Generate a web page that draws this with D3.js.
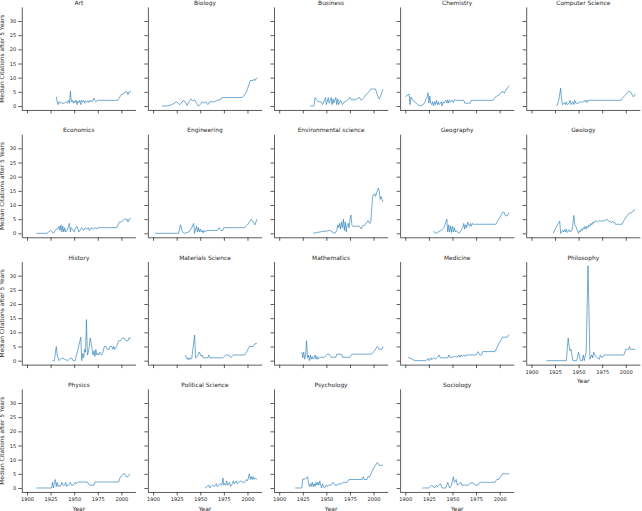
<!DOCTYPE html>
<html><head><meta charset="UTF-8">
<title>Median Citations after 5 Years</title>
<script src="https://d3js.org/d3.v7.min.js"></script>
<style>
  body { margin: 0; background: #fff; }
  text { font-family: "DejaVu Sans", sans-serif; fill: #262626; }
</style>
</head>
<body>
<svg id="chart" width="642" height="511"></svg>
<script>
// field names, in facet order (5 columns)
var fields = ["Art", "Biology", "Business", "Chemistry", "Computer Science",
  "Economics", "Engineering", "Environmental science", "Geography", "Geology",
  "History", "Materials Science", "Mathematics", "Medicine", "Philosophy",
  "Physics", "Political Science", "Psychology", "Sociology"];

var xTicks = [1900, 1925, 1950, 1975, 2000];
var yTicks = [0, 5, 10, 15, 20, 25, 30];

// [year, median citations after 5 years]
var art = [[1931,3.3],[1932,1.5],[1933,0.5],[1934,1.5],[1935,1],[1937,1.2],[1939,0.8],[1941,1.5],[1943,1],[1944,2],[1945,1],[1946,5.2],[1947,1.5],[1948,2],[1949,1],[1950,1.8],[1951,1.2],[1952,2],[1953,0.5],[1954,1.8],[1955,1.2],[1956,2],[1957,0.5],[1958,2],[1959,1.5],[1960,2],[1961,1],[1962,1.8],[1963,1.5],[1964,1.8],[1965,1.2],[1966,2],[1967,1.5],[1968,2],[1969,1.5],[1970,2],[1971,2.8],[1972,2],[1973,1.5],[1975,2],[1996,2],[1998,3],[2000,4],[2002,4.2],[2004,5],[2006,5],[2007,4],[2008,5],[2010,5]];
var biology = [[1909,0],[1915,0],[1920,0.5],[1925,1.5],[1928,0.5],[1930,1],[1932,2],[1934,1.5],[1936,0.2],[1938,1.5],[1940,2.5],[1942,1.8],[1944,2.2],[1946,1],[1948,0],[1950,0.5],[1952,1.5],[1954,1],[1956,1.5],[1958,0.5],[1960,1.5],[1965,1.5],[1968,2],[1972,2.4],[1973,3],[1994,3],[1996,3.5],[1999,5],[2001,7],[2003,9],[2006,9],[2007,9.5],[2008,9],[2010,10]];
var business = [[1933,0],[1936,0],[1937,0.2],[1938,3],[1940,2],[1942,1.5],[1944,1.5],[1946,0.5],[1948,2],[1949,3],[1950,0.5],[1952,3],[1953,1],[1955,3],[1956,0.5],[1957,2.5],[1958,1],[1960,3],[1961,0.5],[1962,2.5],[1963,0.5],[1965,2],[1967,0.5],[1969,1.5],[1970,1.5],[1972,2],[1974,2.5],[1975,3],[1977,2],[1979,2.5],[1980,2],[1982,2.5],[1985,3],[1987,2],[1990,3],[1992,4],[1995,5],[1997,6],[2000,6],[2002,6],[2003,5],[2005,3],[2006,2.5],[2008,4],[2010,6]];
var chemistry = [[1900,3.3],[1902,3.8],[1904,4.2],[1905,0.5],[1906,3.2],[1908,2],[1910,1.5],[1913,0.5],[1916,0],[1919,0.5],[1921,1.5],[1922,2.5],[1923,3],[1924,4.7],[1925,1],[1926,3.5],[1927,1],[1928,0.5],[1929,1.5],[1930,0],[1931,1.5],[1932,0.5],[1933,2],[1934,0.5],[1935,1.5],[1936,0.5],[1938,1.5],[1939,0],[1940,1.5],[1941,1],[1943,2],[1944,1],[1945,2.2],[1946,1],[1947,2],[1948,1.5],[1950,2],[1951,1.2],[1952,2.2],[1954,2],[1962,2],[1963,1],[1969,1],[1970,2],[1993,2],[1995,3],[1997,3.5],[2000,4],[2002,5],[2004,5],[2005,4.5],[2007,6],[2009,6.5],[2010,7.2]];
var computerScience = [[1927,0],[1929,2],[1931,6.3],[1932,2],[1933,0.5],[1935,1.2],[1936,0.5],[1937,1.5],[1938,0.5],[1940,1],[1941,2],[1942,0.5],[1944,1.5],[1945,0.5],[1946,2],[1947,1],[1950,1],[1952,1.5],[1954,1.2],[1956,2],[1957,1.5],[1958,2],[1959,1.2],[1960,2],[1995,2],[1997,3],[2000,4],[2003,5.2],[2005,5],[2007,3.8],[2008,3.2],[2010,4.2]];
var economics = [[1910,0],[1921,0],[1925,1],[1928,0],[1931,1.5],[1933,1.5],[1934,2.5],[1935,1],[1936,3],[1937,0.5],[1938,2.5],[1939,0.5],[1940,2],[1941,0.5],[1943,1.5],[1945,3.5],[1946,0.5],[1947,2],[1948,1.5],[1950,0.5],[1951,1.5],[1953,2.5],[1955,0.5],[1957,1.5],[1958,2],[1960,1],[1962,2],[1963,1.5],[1965,2],[1966,1],[1968,2],[1970,1.5],[1972,2],[1974,1.5],[1975,2],[1995,2],[1998,4],[2000,4],[2003,5],[2006,5],[2007,4],[2008,5],[2010,5.2]];
var engineering = [[1902,0],[1927,0],[1929,3],[1931,0.5],[1933,0],[1938,0.5],[1941,2],[1943,3.5],[1944,0],[1946,2.5],[1947,0.5],[1948,2],[1949,0.5],[1950,1.5],[1951,0.5],[1952,1],[1953,0.2],[1954,1],[1955,0.5],[1957,1],[1968,1],[1970,2],[1972,1],[1974,1],[1975,2],[1997,2],[2000,3],[2002,4],[2004,5],[2006,4],[2008,3],[2010,5]];
var environmentalScience = [[1936,0],[1940,0.3],[1945,0.6],[1950,0.8],[1954,1],[1957,0.3],[1959,0],[1961,1],[1962,3],[1963,2],[1964,3.5],[1965,1.5],[1966,4],[1967,2],[1968,5],[1969,1],[1970,4],[1971,0.5],[1972,3],[1973,3.5],[1974,2],[1975,5],[1976,6.5],[1977,3],[1978,2.5],[1985,2.5],[1987,1.5],[1988,2.5],[1991,3],[1994,4.5],[1996,3.5],[1997,4],[1999,13],[2001,14],[2002,13],[2004,15],[2005,16],[2006,15],[2007,12],[2008,13],[2009,12],[2010,11]];
var geography = [[1930,0.8],[1932,0],[1935,0.5],[1938,1],[1941,2],[1944,5],[1945,0.5],[1946,3],[1947,0.5],[1948,2.5],[1949,0.3],[1950,2.5],[1951,0.5],[1952,2],[1953,0.5],[1954,1],[1955,0.5],[1957,0],[1959,1],[1961,2],[1962,3.5],[1963,1.5],[1964,3],[1965,2],[1966,4],[1967,3],[1968,2.5],[1969,3.5],[1970,2.5],[1971,3.5],[1972,3.2],[1996,3.2],[1998,4.5],[2001,6],[2003,7.4],[2005,7.4],[2006,6.2],[2008,6.2],[2010,7.4]];
var geology = [[1923,0],[1926,2],[1930,4.3],[1931,0],[1933,1],[1934,0.5],[1935,1.2],[1936,0.5],[1937,1.5],[1938,0.3],[1940,1.2],[1941,0.5],[1943,1],[1945,6.3],[1946,3],[1947,2.5],[1948,1.5],[1950,0],[1951,1],[1952,0.5],[1953,1.5],[1954,1],[1955,2],[1956,1.5],[1957,2.5],[1958,1.5],[1959,2.5],[1960,2],[1961,3],[1962,2.5],[1963,3.5],[1964,3],[1965,4],[1966,3.5],[1968,4.5],[1970,4],[1972,4.5],[1975,4.3],[1978,4.5],[1980,5],[1982,4.2],[1984,4.2],[1985,3.8],[1986,4.2],[1987,3.8],[1988,4],[1989,3.2],[1996,3.2],[1998,4.5],[2000,5.5],[2002,6.5],[2004,7.2],[2006,7.2],[2008,8],[2010,8.3]];
var historyField = [[1927,0],[1929,0],[1931,5],[1932,2],[1934,0],[1937,1],[1940,0.5],[1943,0],[1945,0.5],[1947,1],[1949,0],[1951,0],[1954,4],[1957,8.3],[1958,0],[1959,2.5],[1960,1],[1961,4],[1962,3],[1963,14.5],[1964,2],[1965,3],[1966,5],[1967,8],[1968,6],[1969,4],[1970,2],[1971,3.5],[1972,1.5],[1973,4],[1974,2],[1975,2.5],[1976,2],[1977,3],[1979,2],[1980,2.5],[1982,5],[1984,5],[1985,4],[1987,4],[1988,5],[1990,5],[1991,4],[1992,5],[1993,4],[1995,5],[1997,7],[1999,7],[2001,8],[2003,8],[2005,7],[2007,7],[2008,8],[2010,8]];
var materialsScience = [[1934,2],[1936,0.5],[1937,1],[1938,0.3],[1939,1],[1940,0.5],[1941,1],[1944,9],[1945,1],[1947,1.5],[1949,3],[1951,1.5],[1952,2],[1953,1],[1956,1],[1958,1],[1959,2],[1960,1],[1974,1],[1977,2],[1980,2],[1982,1],[1985,2],[1997,2],[1999,3],[2002,5],[2006,5],[2008,6],[2010,6]];
var mathematics = [[1924,3],[1925,1],[1926,3],[1927,0.5],[1928,2],[1929,7],[1930,1],[1931,2],[1932,0],[1933,2],[1934,0.5],[1935,1.5],[1936,0.5],[1937,1],[1938,2],[1939,0.5],[1940,1.5],[1941,0.5],[1942,1],[1944,1.2],[1948,1.2],[1951,2.3],[1953,2.3],[1955,1.2],[1960,1.2],[1961,2.3],[1966,2.3],[1967,1.2],[1975,1.2],[1977,2.3],[1998,2.3],[2001,3.5],[2004,5],[2006,4],[2009,4],[2010,5]];
var medicine = [[1903,1.2],[1906,0.8],[1910,0],[1922,0],[1924,0.8],[1925,0],[1927,1],[1928,0.3],[1930,1],[1932,0.5],[1934,1.2],[1936,2],[1937,1],[1945,1],[1946,2],[1947,1.2],[1950,1.2],[1953,1.5],[1955,1.2],[1957,2],[1958,1.2],[1959,2],[1960,1.5],[1962,2],[1963,1.5],[1964,2],[1975,2],[1977,3.2],[1979,2],[1981,2],[1982,3.2],[1995,3.2],[1997,4.5],[1999,6],[2001,7],[2003,8.3],[2008,8.3],[2010,9.2]];
var philosophy = [[1916,0],[1937,0],[1939,8],[1940,5],[1941,3.5],[1942,4],[1944,0],[1948,0],[1950,3],[1952,0],[1954,0],[1955,2],[1956,0],[1958,3],[1960,33.5],[1962,0.5],[1964,2],[1965,1],[1966,3],[1968,1.5],[1970,1],[1972,0.5],[1973,2],[1975,1],[1977,2],[1998,2],[2000,4],[2003,4],[2004,5],[2005,4],[2010,4]];
var physics = [[1910,0],[1926,0],[1927,2],[1928,0],[1929,2],[1930,3],[1931,0.5],[1932,2],[1933,0.5],[1934,1],[1935,0.5],[1936,1],[1937,2],[1938,1],[1940,1],[1941,2],[1942,0.5],[1943,1],[1944,1],[1946,2],[1947,1],[1949,1],[1951,2],[1952,1.5],[1954,2.1],[1964,2.1],[1966,1],[1971,1],[1972,2.1],[1997,2.1],[1999,4],[2001,4.5],[2003,5.2],[2005,4],[2007,4],[2009,5]];
var politicalScience = [[1955,0],[1957,0.5],[1959,1],[1960,0],[1962,0.8],[1963,1],[1965,0.5],[1967,1.5],[1968,0.5],[1970,1],[1971,1.5],[1973,1],[1974,3.5],[1975,1],[1976,1.5],[1977,1],[1978,2.5],[1979,1],[1980,1.5],[1981,2],[1982,0.5],[1984,1.5],[1985,2.5],[1986,1.5],[1988,2.5],[1989,1.5],[1991,2],[1993,2.5],[1995,2],[1997,2],[1999,3],[2000,2.5],[2001,3.5],[2002,5],[2003,3],[2004,4],[2005,3],[2006,4],[2007,3],[2008,3.5],[2010,3]];
var psychology = [[1917,0],[1924,0],[1925,3.2],[1928,3.2],[1930,4],[1931,2],[1932,0.5],[1933,1.5],[1934,0.5],[1935,2],[1936,0.5],[1937,1.5],[1938,0.5],[1939,2],[1940,1],[1941,2],[1942,1],[1943,2.5],[1944,1],[1945,0],[1946,1.5],[1947,0.5],[1948,0],[1950,1],[1951,0.5],[1952,1],[1955,1],[1957,2],[1959,1],[1962,1],[1963,1.5],[1966,1.5],[1968,2],[1972,2],[1974,3],[1988,3],[1989,4],[1990,3],[1993,3],[1994,4],[1996,4],[1998,5.5],[2000,7],[2002,8],[2004,9],[2006,8],[2010,8]];
var sociology = [[1918,0],[1925,0],[1928,1],[1929,0.5],[1930,0.5],[1931,0],[1933,1],[1934,0.5],[1936,1],[1937,1.5],[1939,0],[1943,0],[1945,2],[1947,0],[1949,1],[1951,4],[1952,2],[1954,3],[1955,1],[1957,1.5],[1959,2],[1960,1],[1967,1],[1969,1.8],[1972,1.8],[1974,1],[1977,1],[1979,2],[1995,2],[1997,3],[1999,3],[2001,4],[2003,5],[2010,5]];

var series = [art, biology, business, chemistry, computerScience,
  economics, engineering, environmentalScience, geography, geology,
  historyField, materialsScience, mathematics, medicine, philosophy,
  physics, politicalScience, psychology, sociology];

var svg = d3.select("#chart");
var nCols = 5;
var colStep = 126.1, rowStep = 127.33;
var pw = 114.2;           // panel width
var y0Row = 106, pxPerUnit = 2.833;
var yDom = [-1.4, 34.8];

fields.forEach(function(name, i) {
  var col = i % nCols, row = Math.floor(i / nCols);
  var left = 21.8 + col * colStep;
  var zeroY = y0Row + row * rowStep;
  var x = d3.scaleLinear().domain([1894.5, 2015.5]).range([0, pw]);
  var y = d3.scaleLinear().domain(yDom)
    .range([zeroY + (-yDom[0]) * pxPerUnit, zeroY - yDom[1] * pxPerUnit]);
  var top = y(yDom[1]), bottom = y(yDom[0]);

  var g = svg.append("g").attr("transform", "translate(" + left + ",0)");

  // x labels only where there is no panel below
  var lastRow = (i + nCols >= fields.length);
  var xAxis = d3.axisBottom(x).tickValues(xTicks).tickSize(3.5).tickPadding(2)
    .tickFormat(lastRow ? d3.format("d") : "");
  var gx = g.append("g").attr("transform", "translate(0," + bottom + ")").call(xAxis);

  var yAxis = d3.axisLeft(y).tickValues(yTicks).tickSize(3.5).tickPadding(2)
    .tickFormat(col === 0 ? d3.format("d") : "");
  var gy = g.append("g").call(yAxis);

  [gx, gy].forEach(function(a) {
    a.select(".domain").attr("stroke", "#333").attr("stroke-width", 0.8);
    a.selectAll(".tick line").attr("stroke", "#333").attr("stroke-width", 0.8);
    a.selectAll(".tick text").attr("font-size", "5.1px")
      .attr("font-family", "DejaVu Sans").attr("fill", "#333");
  });
  // plain spines without the end stubs
  gx.select(".domain").attr("d", "M0,0.5H" + pw);
  gy.select(".domain").attr("d", "M0.5," + top + "V" + bottom);

  g.append("text").attr("x", pw / 2).attr("y", top - 2.3)
    .attr("text-anchor", "middle").attr("font-size", "5.9px").text(name);

  if (lastRow) {
    g.append("text").attr("x", pw / 2).attr("y", bottom + 18.8)
      .attr("text-anchor", "middle").attr("font-size", "5.9px").text("Year");
  }
  if (col === 0) {
    g.append("text")
      .attr("transform", "translate(-17.5," + ((top + bottom) / 2) + ") rotate(-90)")
      .attr("text-anchor", "middle").attr("font-size", "5.9px")
      .text("Median Citations after 5 Years");
  }

  var line = d3.line().x(function(d) { return x(d[0]); }).y(function(d) { return y(d[1]); });
  g.append("path").datum(series[i]).attr("d", line)
    .attr("fill", "none").attr("stroke", "#1f77b4").attr("stroke-opacity", 0.62)
    .attr("stroke-width", 1).attr("stroke-linejoin", "round");
});
</script>
</body></html>
